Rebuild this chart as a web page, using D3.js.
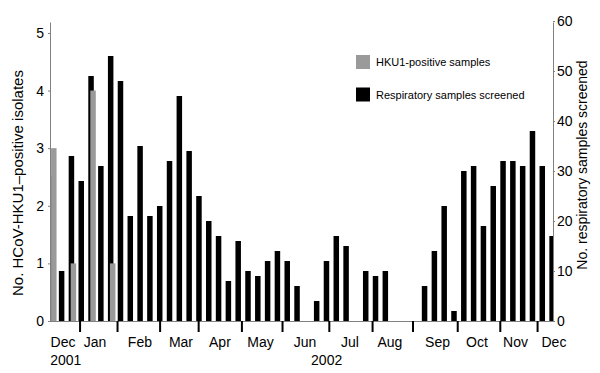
<!DOCTYPE html>
<html>
<head>
<meta charset="utf-8">
<script src="https://cdn.jsdelivr.net/npm/d3@7"></script>
<style>
  body { margin: 0; background: #fff; }
  svg { font-family: "Liberation Sans", Arial, sans-serif; }
  .axis path, .axis line { stroke: #808080; }
  .axis text { fill: #000; font-size: 14px; }
</style>
</head>
<body>
<script>
// weekly data, Dec 2001 - Dec 2002
var weeks = d3.range(1, 53);
var screened = [29, 10, 33, 28, 49, 31, 53, 48, 21, 35, 21, 23, 32, 45, 34, 25, 20, 17, 8, 16,
                10, 9, 12, 14, 12, 7, 0, 4, 12, 17, 15, 0, 10, 9, 10, 0, 0, 0, 7, 14,
                23, 2, 30, 31, 19, 27, 32, 32, 31, 38, 31, 17];
var positives = [3, 0, 1, 0, 4, 0, 1, 0, 0, 0, 0, 0, 0, 0, 0, 0, 0, 0, 0, 0,
                 0, 0, 0, 0, 0, 0, 0, 0, 0, 0, 0, 0, 0, 0, 0, 0, 0, 0, 0, 0,
                 0, 0, 0, 0, 0, 0, 0, 0, 0, 0, 0, 0];
var monthLabels = ["Dec", "Jan", "Feb", "Mar", "Apr", "May", "Jun", "Jul", "Aug", "Sep", "Oct", "Nov", "Dec"];
var monthLabelPos = [1.42, 4.68, 9.26, 13.45, 17.42, 21.55, 26.09, 30.67, 34.75, 39.6, 43.62, 47.55, 51.47];
var monthTickPos = [3.16, 6.98, 11.32, 15.25, 19.66, 23.8, 28.57, 32.98, 37.1, 41.66, 46.0, 49.8];
var yearLabels = ["2001", "2002"];
var yearLabelPos = [1.7, 28.3];
var leftTicks = [0, 1, 2, 3, 4, 5];
var rightTicks = [0, 10, 20, 30, 40, 50, 60];
var legendItems = ["HKU1-positive samples", "Respiratory samples screened"];
var colors = ["#9a9a9a", "#000000"];

var width = 600, height = 373;
var plotLeft = 50, plotRight = 553, plotTop = 22, plotBottom = 321;

var svg = d3.select('body').append('svg')
  .attr('width', width)
  .attr('height', height);

var x = d3.scaleBand()
  .domain(weeks)
  .range([47.1, 556.8])
  .paddingInner(0.44)
  .paddingOuter(0.2);

// fractional week position -> pixel (from start of first bar)
var xw = function(w) { return x(weeks[0]) + w * x.step(); };

var yLeft = d3.scaleLinear().domain([0, 5.19]).range([plotBottom, plotTop]);
var yRight = d3.scaleLinear().domain([0, 59.8]).range([plotBottom, plotTop]);

svg.append('clipPath').attr('id', 'plot')
  .append('rect')
  .attr('x', plotLeft).attr('y', 0)
  .attr('width', plotRight - plotLeft).attr('height', plotBottom);

var bars = svg.append('g').attr('clip-path', 'url(#plot)');

bars.selectAll('rect.scr').data(weeks)
  .enter().append('rect')
  .attr('class', 'scr')
  .attr('x', function(d) { return x(d); })
  .attr('width', x.bandwidth())
  .attr('y', function(d, i) { return yRight(screened[i]); })
  .attr('height', function(d, i) { return plotBottom - yRight(screened[i]); })
  .style('fill', colors[1]);

bars.selectAll('rect.pos').data(weeks.filter(function(d, i) { return positives[i] > 0; }))
  .enter().append('rect')
  .attr('class', 'pos')
  .attr('x', function(d) { return x(d) + 2; })
  .attr('width', x.bandwidth())
  .attr('y', function(d) { return yLeft(positives[d - 1]); })
  .attr('height', function(d) { return plotBottom - yLeft(positives[d - 1]); })
  .style('fill', colors[0]);

// axes
svg.append('g').attr('class', 'axis')
  .attr('transform', 'translate(' + plotLeft + ',0)')
  .call(d3.axisLeft(yLeft).tickValues(leftTicks).tickFormat(d3.format('d'))
    .tickSize(2).tickSizeOuter(0).tickPadding(4));

svg.append('g').attr('class', 'axis')
  .attr('transform', 'translate(' + plotRight + ',0)')
  .call(d3.axisRight(yRight).tickValues(rightTicks).tickSize(2).tickSizeOuter(0).tickPadding(2));

svg.append('line')
  .attr('x1', plotLeft).attr('x2', plotRight)
  .attr('y1', plotBottom + 0.5).attr('y2', plotBottom + 0.5)
  .style('stroke', '#808080');

// month boundary ticks
svg.selectAll('line.mt').data(monthTickPos)
  .enter().append('line')
  .attr('class', 'mt')
  .attr('x1', function(d) { return xw(d); })
  .attr('x2', function(d) { return xw(d); })
  .attr('y1', plotBottom)
  .attr('y2', plotBottom + 11)
  .style('stroke', '#000')
  .style('stroke-width', 2);

svg.selectAll('text.month').data(monthLabels)
  .enter().append('text')
  .attr('class', 'month')
  .attr('x', function(d, i) { return xw(monthLabelPos[i]); })
  .attr('y', 347)
  .attr('text-anchor', 'middle')
  .style('font-size', '14px')
  .text(function(d) { return d; });

svg.selectAll('text.year').data(yearLabels)
  .enter().append('text')
  .attr('class', 'year')
  .attr('x', function(d, i) { return xw(yearLabelPos[i]); })
  .attr('y', 365)
  .attr('text-anchor', 'middle')
  .style('font-size', '14px')
  .text(function(d) { return d; });

// axis titles
svg.append('text')
  .attr('transform', 'translate(23,' + 183 + ') rotate(-90)')
  .attr('text-anchor', 'middle')
  .style('font-size', '15px')
  .text('No. HCoV-HKU1\u2013positive isolates');

svg.append('text')
  .attr('transform', 'translate(587,' + 165 + ') rotate(-90)')
  .attr('text-anchor', 'middle')
  .style('font-size', '14px')
  .text('No. respiratory samples screened');

// legend
var legend = svg.selectAll('g.leg').data(legendItems)
  .enter().append('g')
  .attr('class', 'leg')
  .attr('transform', function(d, i) { return 'translate(356,' + (55 + i * 32.5) + ')'; });

legend.append('rect')
  .attr('width', 14).attr('height', 14)
  .style('fill', function(d, i) { return colors[i]; });

legend.append('text')
  .attr('x', 20).attr('y', 11)
  .style('font-size', '11px')
  .text(function(d) { return d; });
</script>
</body>
</html>
